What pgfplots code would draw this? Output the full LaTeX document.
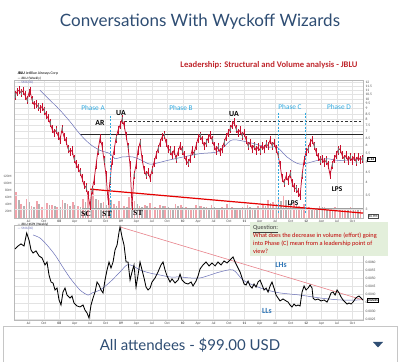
\documentclass[border=0pt]{standalone}
\usepackage{pgfplots}
\usepackage{pgfplotstable}
\pgfplotsset{compat=1.18}
\usepackage{fontspec}
\setmainfont{Carlito}
\newfontfamily\latofont{Lato}
\newfontfamily\serifb{Liberation Serif}
\definecolor{titleblue}{HTML}{2E4D73}
\definecolor{lred}{HTML}{C0272D}
\definecolor{phasecyan}{HTML}{2FA9E0}
\definecolor{candlered}{HTML}{C8102E}
\definecolor{volpink}{HTML}{F2A3AB}
\definecolor{volgray}{HTML}{B3B3B3}
\definecolor{maBlue}{HTML}{6A70B8}
\definecolor{qgreen}{HTML}{E3EFDB}
\definecolor{qred}{HTML}{C00000}
\definecolor{lhblue}{HTML}{2E75B6}
\definecolor{trendpink}{HTML}{E8828A}

\pgfplotstableread{
m p
3.39 10.4
3.78 10.8
4.17 11.0
4.55 10.7
4.94 10.9
5.33 10.4
5.72 9.9
6.11 10.7
6.31 10.9
6.69 9.9
7.08 9.4
7.47 9.5
7.86 9.2
8.25 9.0
8.64 9.2
9.03 8.8
9.42 8.4
9.81 8.1
10.20 7.7
10.58 7.2
10.97 6.9
11.36 7.1
11.75 6.7
12.14 6.4
12.53 7.2
12.92 6.6
13.31 6.3
13.70 5.8
14.09 5.6
14.47 5.7
14.86 5.2
15.25 4.9
15.64 4.7
16.03 4.5
16.42 4.2
16.81 3.9
17.20 3.8
17.59 3.5
17.98 3.1
18.36 3.7
18.75 4.1
19.14 4.85
19.53 5.7
19.92 6.5
20.31 6.0
20.70 5.1
21.09 4.35
21.48 3.3
21.87 4.1
22.25 5.1
22.64 5.7
23.03 6.5
23.42 7.1
23.81 7.5
24.20 8.0
24.59 7.5
24.98 6.7
25.37 5.9
25.76 4.85
26.14 3.1
26.53 4.35
26.92 4.85
27.31 5.7
27.70 6.2
28.09 5.2
28.48 4.6
28.87 4.35
29.26 4.5
29.65 4.2
30.03 4.6
30.42 5.0
30.81 5.4
31.20 5.8
31.59 6.2
31.98 6.6
32.37 6.75
32.76 6.2
33.15 5.8
33.54 5.7
33.92 5.4
34.31 5.7
34.70 5.2
35.09 5.6
35.48 6.0
35.87 5.7
36.26 5.4
36.65 5.1
37.04 4.95
37.43 5.2
37.81 5.7
38.20 5.5
38.59 6.0
38.98 6.5
39.37 6.7
39.76 6.4
40.15 6.0
40.54 6.2
40.93 6.5
41.32 6.75
41.70 6.4
42.09 6.0
42.48 5.7
42.87 5.9
43.26 5.6
43.65 5.8
44.04 6.2
44.43 6.6
44.82 6.9
45.21 7.2
45.59 7.5
45.98 7.75
46.37 7.2
46.76 6.9
47.15 7.1
47.54 6.7
47.93 6.9
48.32 6.4
48.71 6.0
49.10 6.2
49.48 5.8
49.87 6.0
50.26 5.7
50.65 5.9
51.04 5.7
51.43 6.0
51.82 5.8
52.21 6.1
52.60 6.0
52.99 6.4
53.37 6.0
53.76 6.2
54.15 5.8
54.54 5.4
54.93 4.85
55.32 4.2
55.71 4.0
56.10 4.3
56.49 4.1
56.88 4.4
57.26 4.0
57.65 3.8
58.04 3.75
58.43 3.6
58.82 3.45
59.21 4.35
59.60 5.1
59.99 5.6
60.38 5.8
60.77 6.2
61.15 6.4
61.54 6.0
61.93 5.6
62.32 5.3
62.71 5.1
63.10 5.2
63.49 5.0
63.88 5.1
64.27 4.85
64.66 4.35
65.04 4.85
65.43 5.2
65.82 5.4
66.21 5.7
66.60 5.8
66.99 5.4
67.38 5.2
67.77 5.4
68.16 5.1
68.55 5.3
68.93 5.1
69.32 5.3
69.71 5.05
70.10 5.3
70.49 5.15
70.88 5.2
}\pricetable

\pgfplotstableread{
m p
8.25 11.0
10.20 9.86
12.14 8.84
14.09 7.8
16.03 6.8
17.98 6.1
19.92 5.7
21.87 5.5
22.84 5.2
24.20 5.3
26.34 5.3
28.09 5.1
29.65 4.9
31.59 5.0
32.95 5.1
36.06 5.3
39.37 5.5
42.68 5.6
44.23 6.0
45.79 6.4
49.10 6.2
52.40 5.9
54.35 5.9
56.29 5.3
58.82 4.9
62.13 5.1
64.07 5.2
66.60 5.1
70.49 5.2
}\pricema

\pgfplotstableread{
m r
3.39 0.00680
3.97 0.00698
4.55 0.00711
5.14 0.00698
5.66 0.00778
6.11 0.00735
6.50 0.00674
6.89 0.00655
7.47 0.00668
8.06 0.00637
8.64 0.00625
9.22 0.00582
9.61 0.00600
10.00 0.00520
10.39 0.00477
10.78 0.00471
11.17 0.00428
11.56 0.00440
11.95 0.00367
12.33 0.00336
12.72 0.00416
13.11 0.00440
13.50 0.00397
14.09 0.00379
14.47 0.00391
14.86 0.00348
15.45 0.00330
16.03 0.00324
16.61 0.00336
17.00 0.00305
17.39 0.00287
17.78 0.00256
18.17 0.00336
18.56 0.00379
18.95 0.00416
19.34 0.00477
19.73 0.00459
20.11 0.00428
20.50 0.00410
20.89 0.00489
21.28 0.00551
21.67 0.00600
22.06 0.00563
22.45 0.00600
22.84 0.00674
23.23 0.00704
23.62 0.00784
23.81 0.00815
24.20 0.00754
24.59 0.00704
24.98 0.00600
25.37 0.00600
25.76 0.00489
26.14 0.00539
26.53 0.00582
26.92 0.00446
27.31 0.00520
27.70 0.00600
28.09 0.00551
28.48 0.00502
28.87 0.00446
29.26 0.00428
29.65 0.00440
30.03 0.00477
30.62 0.00502
31.20 0.00539
31.78 0.00582
32.17 0.00600
32.56 0.00551
32.95 0.00514
33.54 0.00477
33.92 0.00496
34.51 0.00471
35.09 0.00489
35.48 0.00526
35.87 0.00489
36.45 0.00471
37.04 0.00465
37.62 0.00477
38.01 0.00453
38.59 0.00483
38.98 0.00514
39.37 0.00557
39.95 0.00582
40.54 0.00600
41.12 0.00576
41.70 0.00594
42.29 0.00576
42.87 0.00600
43.45 0.00582
44.04 0.00606
44.62 0.00594
45.21 0.00612
45.79 0.00631
46.18 0.00600
46.76 0.00563
47.15 0.00539
47.54 0.00502
47.93 0.00465
48.32 0.00459
48.71 0.00483
49.10 0.00453
49.48 0.00440
49.87 0.00465
50.26 0.00446
50.65 0.00477
51.04 0.00489
51.43 0.00459
51.82 0.00428
52.21 0.00440
52.60 0.00416
52.99 0.00453
53.37 0.00477
53.76 0.00440
54.15 0.00397
54.54 0.00379
54.93 0.00361
55.51 0.00373
56.10 0.00361
56.49 0.00354
56.88 0.00336
57.26 0.00324
57.65 0.00342
58.04 0.00330
58.43 0.00336
58.82 0.00330
59.21 0.00416
59.60 0.00453
59.99 0.00428
60.38 0.00440
60.77 0.00459
61.15 0.00440
61.35 0.00379
61.74 0.00367
62.32 0.00373
62.90 0.00361
63.49 0.00367
64.07 0.00354
64.46 0.00379
64.85 0.00410
65.24 0.00416
65.63 0.00397
66.02 0.00428
66.41 0.00410
66.79 0.00385
67.18 0.00367
67.57 0.00354
67.96 0.00342
68.35 0.00348
68.74 0.00342
69.13 0.00354
69.52 0.00373
69.91 0.00385
70.30 0.00391
70.69 0.00379
71.07 0.00367
}\ratiotable

\pgfplotstableread{
m r
6.89 0.00766
8.25 0.00747
9.61 0.00704
11.17 0.00643
12.53 0.00576
14.09 0.00502
16.03 0.00428
17.59 0.00397
18.36 0.00410
19.92 0.00428
21.87 0.00477
23.81 0.00539
25.17 0.00582
26.34 0.00576
27.70 0.00551
29.65 0.00532
31.59 0.00520
33.54 0.00508
35.48 0.00508
37.43 0.00502
39.37 0.00502
41.32 0.00520
43.26 0.00539
45.79 0.00551
47.73 0.00489
50.07 0.00453
52.40 0.00428
54.93 0.00410
58.82 0.00397
62.71 0.00379
66.60 0.00367
70.49 0.00367
}\ratioma

\pgfplotstableread{
m v
3.6 75
4.6 40
5.6 55
6.6 35
7.6 48
8.6 30
9.6 42
10.6 38
11.6 32
12.6 50
13.6 40
14.6 45
15.6 35
16.6 55
17.6 70
18.6 85
19.6 52
20.6 45
21.6 58
22.6 40
23.6 48
24.6 35
25.6 60
26.6 48
27.6 35
28.6 38
29.6 42
30.6 30
31.6 38
32.6 33
33.6 28
34.6 40
35.6 36
36.6 30
37.6 26
38.6 38
39.6 33
40.6 30
41.6 36
42.6 28
43.6 32
44.6 40
45.6 30
46.6 26
47.6 30
48.6 36
49.6 28
50.6 33
51.6 40
52.6 50
53.6 45
54.6 58
55.6 62
56.6 50
57.6 42
58.6 35
59.6 40
60.6 32
61.6 28
62.6 34
63.6 30
64.6 26
65.6 32
66.6 29
67.6 26
68.6 30
69.6 24
70.6 28
}\volpink

\pgfplotstableread{
m v
4.1 50
5.1 35
6.1 45
7.1 30
8.1 40
9.1 28
10.1 36
11.1 33
12.1 30
13.1 42
14.1 35
15.1 38
16.1 30
17.1 45
18.1 60
19.1 55
20.1 42
21.1 38
22.1 50
23.1 35
24.1 40
25.1 30
26.1 45
27.1 40
28.1 30
29.1 33
30.1 36
31.1 26
32.1 33
33.1 30
34.1 25
35.1 35
36.1 32
37.1 28
38.1 24
39.1 33
40.1 30
41.1 27
42.1 32
43.1 25
44.1 28
45.1 35
46.1 27
47.1 24
48.1 27
49.1 32
50.1 25
51.1 30
52.1 35
53.1 42
54.1 40
55.1 48
56.1 52
57.1 44
58.1 36
59.1 30
60.1 35
61.1 28
62.1 25
63.1 30
64.1 27
65.1 24
66.1 28
67.1 26
68.1 23
69.1 27
70.1 22
}\volgray

\pgfplotsset{
  panel/.style={
    scale only axis, width=349pt, anchor=south west,
    xmin=3.19, xmax=71.06,
    axis line style={gray!55, line width=0.3pt},
    xtick={6,9,...,69},
    xticklabels={Jul,Oct,\textbf{08},Apr,Jul,Oct,\textbf{09},Apr,Jul,Oct,\textbf{10},Apr,Jul,Oct,\textbf{11},Apr,Jul,Oct,\textbf{12},Apr,Jul,Oct},
    major tick length=0pt,
    grid=major, grid style={gray!22, line width=0.25pt},
    ticklabel style={font=\fontsize{3.6}{4}\selectfont, text=black!70},
    xticklabel style={yshift=1.5pt},
    yticklabel pos=right,
    yticklabel style={xshift=-1pt},
    /pgf/number format/assume math mode=true,
  }
}

\begin{document}
\begin{tikzpicture}[x=1pt,y=1pt]
\path[use as bounding box, fill=white] (0pt,0pt) rectangle (400pt,362pt);

% title
\node[font=\latofont\fontsize{17}{20}\selectfont, text=titleblue] at (200pt,340pt) {Conversations With Wyckoff Wizards};

% volume overlay (behind)
\begin{axis}[scale only axis, at={(14pt,144pt)}, anchor=south west, width=349pt, height=138pt,
  xmin=3.19, xmax=71.06, ymin=0, ymax=394,
  hide x axis, axis y line*=left, y axis line style={draw=none},
  major tick length=0pt,
  ytick={20,40,60,80,100,120},
  yticklabels={20M,40M,60M,80M,100M,120M},
  yticklabel style={font=\fontsize{3.4}{4}\selectfont, text=black!70, xshift=1pt}]
\addplot[ycomb, volpink, line width=1.7pt] table[x=m,y=v] {\volpink};
\addplot[ycomb, volgray, line width=1.7pt] table[x=m,y=v] {\volgray};
\end{axis}

% price panel
\begin{axis}[panel, at={(14pt,144pt)}, height=138pt,
  ymode=log, ymin=2.72, ymax=12.3,
  ytick={3,3.5,4,4.5,5,5.5,6,6.5,7,7.5,8,8.5,9,9.5,10,10.5,11,11.5,12},
  log ticks with fixed point,
  yticklabel style={/pgf/number format/.cd, fixed, fixed zerofill, precision=1}]
\addplot[black!85, line width=0.9pt] coordinates {(16.03,6.78) (71.06,6.78)};
\addplot[black!80, line width=0.7pt, dash pattern=on 2.5pt off 2pt] coordinates {(23.81,7.85) (71.06,7.85)};
\addplot[gray!75, line width=0.9pt] coordinates {(16.42,3.03) (71.06,3.03)};
\addplot[maBlue, line width=0.5pt, smooth] table[x=m,y=p] {\pricema};
\addplot[candlered, line width=0.75pt, mark=none,
  error bars/.cd, y dir=both, y fixed relative=0.045,
  error bar style={candlered, line width=0.45pt}, error mark=none] table[x=m,y=p] {\pricetable};
\addplot[black!55, only marks, mark=|, mark size=2.2pt, each nth point=3,
  mark options={line width=0.6pt}] table[x=m,y=p] {\pricetable};
\addplot[red!90!black, line width=1.2pt] coordinates {(17.98,3.73) (71.06,2.87)};
\addplot[phasecyan, line width=0.9pt, dash pattern=on 2pt off 1.5pt] coordinates {(21.87,8.3) (21.87,2.72)};
\addplot[phasecyan, line width=0.9pt, dash pattern=on 2pt off 1.5pt] coordinates {(54.54,8.6) (54.54,2.85)};
\addplot[phasecyan, line width=0.9pt, dash pattern=on 2pt off 1.5pt] coordinates {(59.79,8.6) (59.79,2.85)};
\end{axis}

% ratio panel
\begin{axis}[panel, at={(14pt,42pt)}, height=95pt,
  ymin=0.00244, ymax=0.00827,
  ytick={0.0025,0.0030,0.0035,0.0040,0.0045,0.0050,0.0055,0.0060},
  scaled y ticks=false,
  yticklabel style={/pgf/number format/.cd, fixed, fixed zerofill, precision=4}]
\addplot[trendpink, line width=0.6pt] coordinates {(23.81,0.00815) (71.06,0.00367)};
\addplot[maBlue, line width=0.5pt, smooth] table[x=m,y=r] {\ratioma};
\addplot[black, line width=0.85pt] table[x=m,y=r] {\ratiotable};
\end{axis}

% chart header texts
\node[anchor=west, font=\fontsize{3.8}{4}\selectfont\bfseries] at (14pt,289pt) {JBLU \mdseries JetBlue Airways Corp};
\node[anchor=west, font=\fontsize{3.4}{4}\selectfont] at (14pt,283.5pt) {\textcolor{black}{---} JBLU (Weekly)};
\node[anchor=west, font=\fontsize{3.4}{4}\selectfont, text=maBlue] at (14pt,279.5pt) {--- SMA(30)};
\node[anchor=west, font=\fontsize{3.4}{4}\selectfont] at (14pt,137.5pt) {--- JBLU:\$SPX (Weekly)};
\node[anchor=west, font=\fontsize{3.4}{4}\selectfont, text=maBlue] at (14pt,133.5pt) {--- SMA(30)};

\node[font=\fontsize{8.6}{10}\selectfont\bfseries, text=lred] at (269pt,297pt) {Leadership: Structural and Volume analysis - JBLU};

% phase labels
\node[font=\fontsize{7.3}{8}\selectfont, text=phasecyan] at (93pt,254pt) {Phase A};
\node[font=\fontsize{7.3}{8}\selectfont, text=phasecyan] at (181pt,254.5pt) {Phase B};
\node[font=\fontsize{7.3}{8}\selectfont, text=phasecyan] at (290pt,255pt) {Phase C};
\node[font=\fontsize{7.3}{8}\selectfont, text=phasecyan] at (339pt,255pt) {Phase D};

% structure labels
\node[font=\fontsize{7.8}{8}\selectfont\bfseries] at (100pt,239pt) {AR};
\node[font=\fontsize{7.8}{8}\selectfont\bfseries] at (121pt,249pt) {UA};
\node[font=\fontsize{7.8}{8}\selectfont\bfseries] at (234pt,248pt) {UA};
\node[font=\serifb\fontsize{7.8}{8}\selectfont\bfseries] at (86pt,148pt) {SC};
\node[font=\serifb\fontsize{7.8}{8}\selectfont\bfseries] at (107pt,148pt) {ST};
\node[font=\serifb\fontsize{7.8}{8}\selectfont\bfseries] at (138pt,149pt) {ST};
\node[font=\fontsize{7.3}{8}\selectfont\bfseries] at (293pt,159pt) {LPS};
\node[font=\fontsize{7.3}{8}\selectfont\bfseries] at (337pt,173pt) {LPS};
\node[font=\fontsize{7.8}{8}\selectfont\bfseries, text=lhblue] at (281pt,97pt) {LHs};
\node[font=\fontsize{7.8}{8}\selectfont\bfseries, text=lhblue] at (267pt,51pt) {LLs};

% last value boxes
\node[draw=black, fill=white, inner sep=0.6pt, line width=0.3pt, font=\fontsize{3.6}{4}\selectfont\bfseries] at (371pt,203pt) {5.13};
\node[draw=black!70, fill=white, inner sep=0.6pt, line width=0.3pt, font=\fontsize{3.4}{4}\selectfont] at (373pt,146pt) {36.9M};
\node[draw=black, fill=white, inner sep=0.6pt, line width=0.3pt, font=\fontsize{3.6}{4}\selectfont\bfseries] at (373pt,62pt) {0.0035};

% question box
\node[anchor=north west, fill=qgreen, inner sep=0pt, minimum width=138pt, minimum height=34pt] at (250pt,140pt) {};
\node[anchor=north west, align=left, inner sep=0pt, font=\fontsize{6.3}{7.9}\selectfont] at (253pt,137pt) {\textcolor{black!75}{\underline{Question:}}\\
\textcolor{qred}{What does the decrease in volume (effort) going}\\
\textcolor{qred}{into Phase (C) mean from a leadership point of}\\
\textcolor{qred}{view?}};

% bottom selector bar
\draw[gray!45, line width=0.7pt] (3pt,-2pt) rectangle (397pt,36pt);
\node[font=\latofont\fontsize{15}{18}\selectfont, text=titleblue] at (190pt,17pt) {All attendees - \$99.00 USD};
\fill[titleblue] (373pt,20pt) -- (383pt,20pt) -- (378pt,14.5pt) -- cycle;
\end{tikzpicture}
\end{document}
